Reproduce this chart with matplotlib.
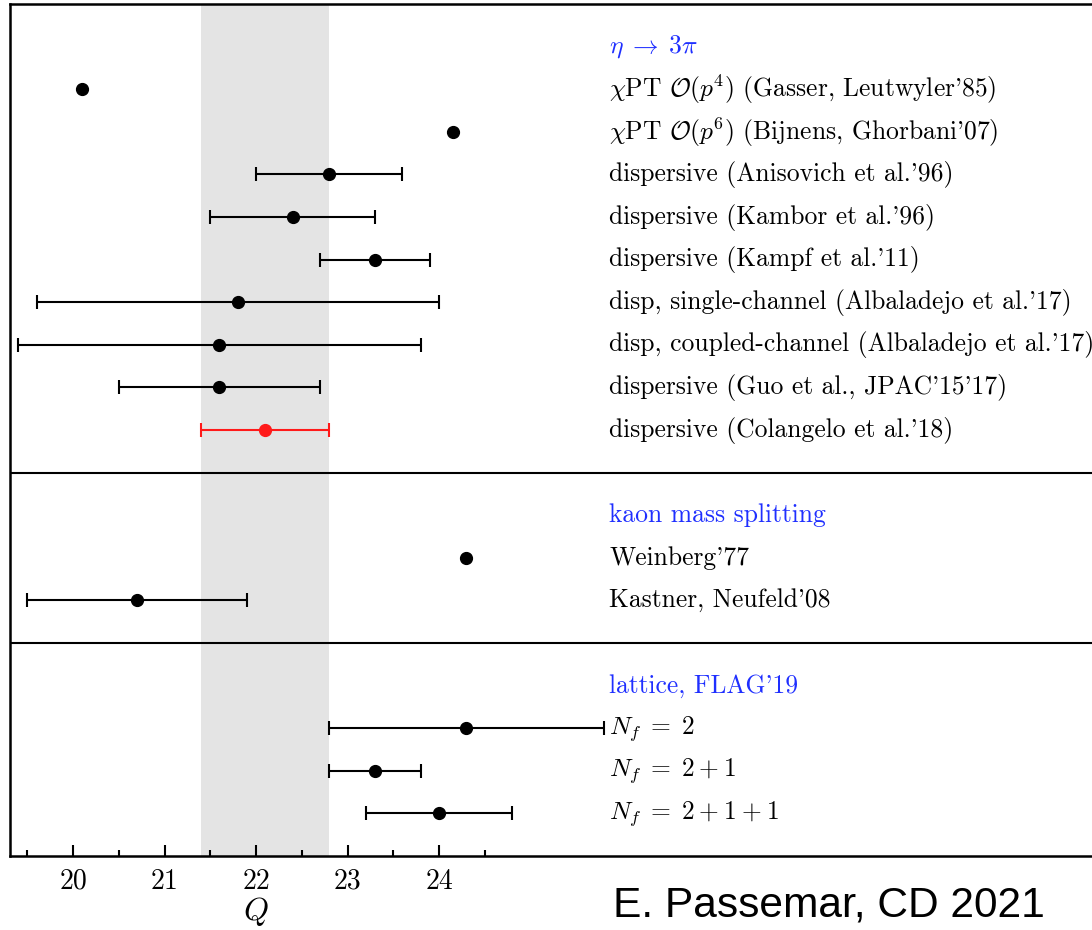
import matplotlib.pyplot as plt
import numpy as np

# Q determinations, grouped; row = slot from the top of the panel
eta_labels = [r"$\chi$PT $\mathcal{O}(p^4)$ (Gasser, Leutwyler'85)",
              r"$\chi$PT $\mathcal{O}(p^6)$ (Bijnens, Ghorbani'07)",
              "dispersive (Anisovich et al.'96)",
              "dispersive (Kambor et al.'96)",
              "dispersive (Kampf et al.'11)",
              "disp, single-channel (Albaladejo et al.'17)",
              "disp, coupled-channel (Albaladejo et al.'17)",
              "dispersive (Guo et al., JPAC'15'17)",
              "dispersive (Colangelo et al.'18)"]
eta_q = [20.1, 24.15, 22.8, 22.4, 23.3, 21.8, 21.6, 21.6, 22.1]
eta_err = [0, 0, 0.8, 0.9, 0.6, 2.2, 2.2, 1.1, 0.7]
eta_rows = [2, 3, 4, 5, 6, 7, 8, 9, 10]

kaon_labels = ["Weinberg'77", "Kastner, Neufeld'08"]
kaon_q = [24.3, 20.7]
kaon_err = [0, 1.2]
kaon_rows = [13, 14]

lat_labels = [r'$N_f\;=\;2$', r'$N_f\;=\;2\:+\:1$', r'$N_f\;=\;2\:+\:1\:+\:1$']
lat_q = [24.3, 23.3, 24.0]
lat_err = [1.5, 0.5, 0.8]
lat_rows = [17, 18, 19]

headers = [r'$\eta\;\to\;3\pi$', 'kaon mass splitting', "lattice, FLAG'19"]
header_rows = [1, 12, 16]
separators = [11, 15]

band = (21.4, 22.8)

plt.rcParams['mathtext.fontset'] = 'cm'
plt.rcParams['font.family'] = ['cmr10', 'DejaVu Serif']
plt.rcParams['axes.formatter.use_mathtext'] = True

fig = plt.figure(figsize=(10.92, 9.30), dpi=100)
ax = fig.add_axes([0.0092, 0.0796, 1.021, 0.916])
ax.set_xlim(19.31, 31.5)
ax.set_ylim(20, 0)

ax.axvspan(*band, color='#e4e4e4', lw=0, zorder=0)

def draw(qs, errs, rows, color='black'):
    for q, e, r in zip(qs, errs, rows):
        if e > 0:
            ax.errorbar(q, r, xerr=e, fmt='o', color=color, ms=8.5,
                        elinewidth=1.5, capsize=5, capthick=1.5, zorder=3)
        else:
            ax.plot(q, r, 'o', color=color, ms=8.5, zorder=3)

draw(eta_q[:-1], eta_err[:-1], eta_rows[:-1])
draw(eta_q[-1:], eta_err[-1:], eta_rows[-1:], color='#ff1a1a')
draw(kaon_q, kaon_err, kaon_rows)
draw(lat_q, lat_err, lat_rows)

xt = 25.86
fs = 18.4
for lab, r in zip(eta_labels + kaon_labels + lat_labels,
                  eta_rows + kaon_rows + lat_rows):
    ax.text(xt, r, lab, fontsize=fs, va='center', ha='left')
for lab, r in zip(headers, header_rows):
    ax.text(xt, r, lab, fontsize=fs, va='center', ha='left', color='#1f2fff')

for s in separators:
    ax.axhline(s, color='black', lw=1.5)

ax.set_xticks([20, 21, 22, 23, 24])
ax.set_xticks(np.arange(19.5, 25, 1.0), minor=True)
ax.set_xticklabels(['20', '21', '22', '23', '24'])
ax.tick_params(axis='x', which='major', direction='in', length=8, width=1.5,
               labelsize=20, pad=9)
ax.tick_params(axis='x', which='minor', direction='in', length=4, width=1.5)
ax.set_yticks([])
ax.set_xlabel(r'$Q$', fontsize=23)
ax.xaxis.set_label_coords((22 - 19.31) / (31.5 - 19.31), -0.046)
for sp in ax.spines.values():
    sp.set_linewidth(1.8)

fig.text(613 / 1092, 1 - 905 / 930, 'E. Passemar, CD 2021', fontsize=30.6,
         family='Liberation Sans', va='center', ha='left')

fig.savefig('out.png', dpi=100)
